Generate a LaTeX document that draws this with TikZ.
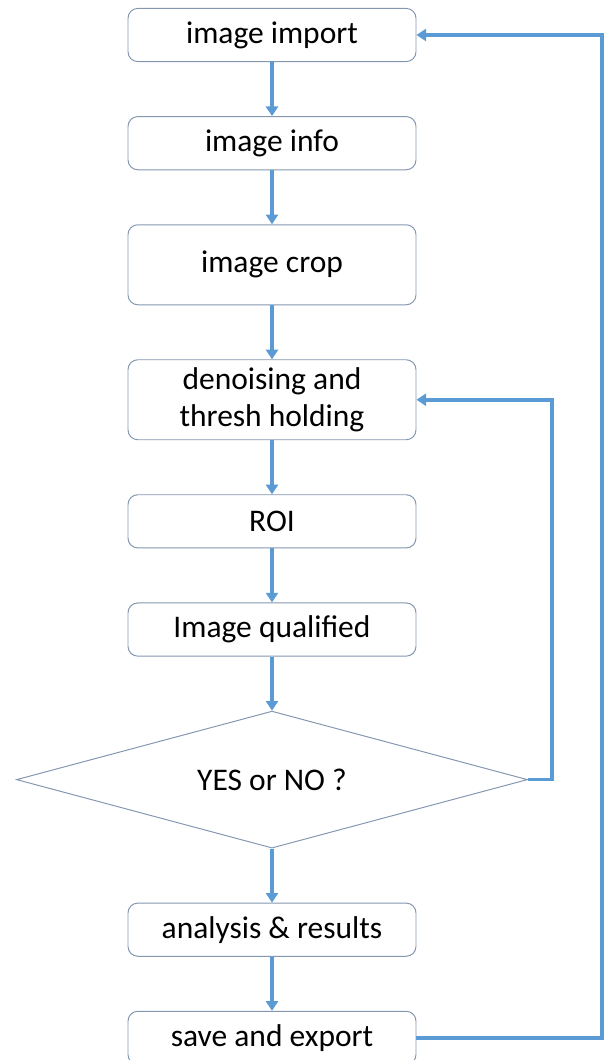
\documentclass[tikz,border=0pt]{standalone}
\usepackage{fontspec}
\setmainfont{Carlito}
\usetikzlibrary{positioning,shapes.geometric,arrows.meta}
\definecolor{flowblue}{RGB}{91,155,213}
\definecolor{boxline}{RGB}{132,151,176}
\tikzset{
  stepbox/.style={draw=boxline, line width=0.7pt, rounded corners=7pt, fill=white,
    minimum width=7.2cm, minimum height=1.33cm, align=center, text=black,
    font=\fontsize{22.4}{26.5}\selectfont},
  tallbox/.style={stepbox, minimum height=2cm},
  decide/.style={diamond, aspect=3.73, draw=boxline, line width=0.7pt, inner sep=0pt,
    minimum width=12.775cm, minimum height=3.425cm, text=black,
    font=\fontsize{22.4}{26.5}\selectfont},
  flow/.style={draw=flowblue, line width=2.5pt, -{Triangle[width=0.3cm,length=0.24cm]}}
}
\begin{document}
\begin{tikzpicture}[node distance=1.35cm]
\useasboundingbox (0,0) rectangle (15.125,-26.5);
% main column
\node[stepbox] (import) at (6.8,-0.875) {image import};
\node[stepbox, below=of import] (info) {image info};
\node[tallbox, below=of info] (crop) {image crop};
\node[tallbox, below=of crop] (denoise) {denoising and\\thresh holding};
\node[stepbox, below=of denoise] (roi) {ROI};
\node[stepbox, below=of roi] (qualified) {Image qualified};
\node[decide, below=of qualified] (yesno) {YES or NO ?};
\node[stepbox, below=of yesno] (analysis) {analysis \& results};
\node[stepbox, below=of analysis] (save) {save and export};
\foreach \a/\b in {import/info,info/crop,crop/denoise,denoise/roi,roi/qualified,qualified/yesno,yesno/analysis,analysis/save}
\draw[flow] (\a) -- (\b);
% loops back
\coordinate (inner) at (13.8,0);
\coordinate (outer) at (15.05,0);
\draw[flow] (yesno.east) -- (yesno.east -| inner) -- (denoise.east -| inner) -- (denoise.east);
\draw[flow] (save.east) -- (save.east -| outer) -- (import.east -| outer) -- (import.east);
\end{tikzpicture}
\end{document}
